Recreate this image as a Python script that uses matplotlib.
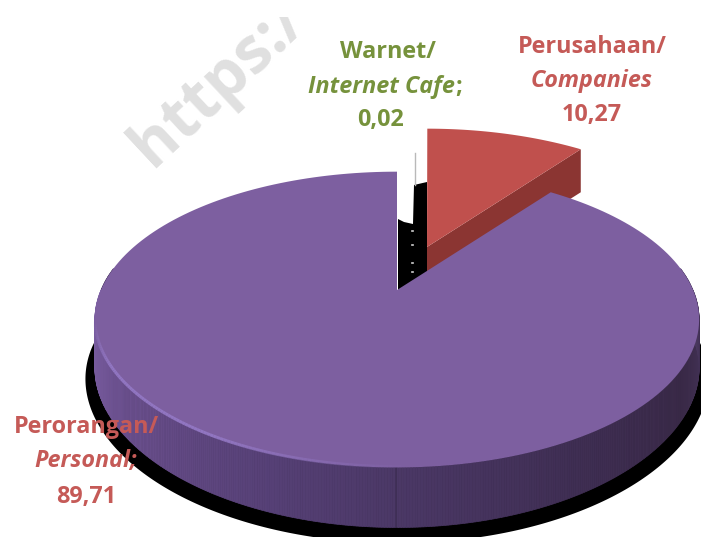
import numpy as np
import matplotlib
matplotlib.use('Agg')
import matplotlib.pyplot as plt
from matplotlib.patches import Polygon
from matplotlib.transforms import Bbox

plt.rcParams['font.family'] = ['Open Sans', 'DejaVu Sans']

labels_id = ['Warnet/', 'Perusahaan/', 'Perorangan/']
labels_en = ['Internet Cafe', 'Companies', 'Personal']
values = [0.02, 10.27, 89.71]
value_text = ['0,02', '10,27', '89,71']

PURPLE = '#7d5fa0'
RED = '#c0504d'
RED_SIDE = '#8b3532'
GREEN = '#76923c'
LABEL_RED = '#c55a57'
FS = 16.8

# pie geometry in pixels, the far side is foreshortened
CX, CY = 397, 290
RX, RY, PERSP = 296, 142, 0.2


def project(theta, r=1.0, off=(0, 0)):
    c, s = r*np.cos(theta), r*np.sin(theta)
    return CX + off[0] + RX*c/(1 + PERSP*s), CY + off[1] - RY*s/(1 + PERSP*s)


def depth_at(theta):
    # rim is tallest at the front
    return 48 + 12*np.sin(theta)**2


def wedge_pts(t0, t1, off=(0, 0), r=1.0):
    t = np.linspace(t0, t1, 200)
    x, y = project(t, r, off)
    return np.r_[[[CX + off[0], CY + off[1]]], np.c_[x, y]]


# slices run clockwise from 12 o'clock
edges = np.pi/2 - 2*np.pi*np.cumsum([0] + values)/sum(values)

fig = plt.figure(figsize=(7.01, 5.37), dpi=100)
ax = fig.add_axes([0, 0, 1, 1])
ax.set_xlim(0, 701)
ax.set_ylim(537, 0)
ax.axis('off')

# watermark, cut off along the top and right
wm = ax.text(152, 168, 'https://', color='#e0e0e0', fontsize=46, fontweight='bold',
             rotation=43, rotation_mode='anchor', ha='left', va='baseline', zorder=1)
wm.set_clip_box(Bbox.from_extents(0, 0, 298, 537 - 17))
wm.set_clip_on(True)

# ground shadow under the front of the pie
t_sh = np.linspace(np.radians(165), np.radians(375), 300)
sx, sy = project(t_sh, 1.03)
sy = sy + depth_at(t_sh) + 9
ax.add_patch(Polygon(np.c_[sx, sy], fc='black', ec='none', zorder=2))

# dark gap between the main slice and the pulled out ones
red_off = (30, -43)
warnet_off = (18, -23)
gap = [(CX + 1, CY + 1), (CX + 1, CY - 71), (CX + 7, CY - 68), (CX + 16, CY - 66), (CX + 17, CY - 105),
       (CX + red_off[0], CY - 108), (CX + red_off[0], CY - 15)]
ax.add_patch(Polygon(gap, fc='black', ec='none', zorder=3))
for yy in [231, 245, 263, 272]:
    ax.plot([411.5, 412.5], [yy, yy], color='#cfcfcf', lw=1.2, zorder=3.1)

# Warnet slice is almost only a line
wx, wy = project((edges[0] + edges[1])/2, 1.0, warnet_off)
ax.plot([CX + 18, CX + 18], [wy + 4, CY - 105], color='#b9b9b9', lw=1.0, zorder=3.2)

# Perusahaan slice, cut face then top
t_cut = edges[2]
ax_, ay_ = CX + red_off[0], CY + red_off[1]
px, py = project(t_cut, 1.0, red_off)
ax.add_patch(Polygon([(ax_, ay_), (px, py), (px, py + 43), (ax_, ay_ + 43)],
                     fc=RED_SIDE, ec='none', zorder=4))
ax.add_patch(Polygon(wedge_pts(edges[1], edges[2], red_off), fc=RED, ec='none', zorder=4.5))

# rim of the main slice, shaded by angle
rim_angles = np.radians([180, 200, 225, 250, 270, 300, 330, 350, 360])
rim_rgb = np.array([[0x80, 0x64, 0xa8], [0x74, 0x58, 0x9a], [0x66, 0x4c, 0x88], [0x56, 0x40, 0x76],
                    [0x4b, 0x38, 0x66], [0x3f, 0x2e, 0x53], [0x3a, 0x2a, 0x48], [0x42, 0x31, 0x55],
                    [0x4c, 0x3a, 0x62]])/255
t_rim = np.linspace(np.pi*0.95, np.pi*2.05, 460)
for a, b in zip(t_rim[:-1], t_rim[1:]):
    xa, ya = project(a)
    xb, yb = project(b)
    mid = ((a + b)/2 - np.radians(180)) % (2*np.pi) + np.radians(180)
    col = [np.interp(min(mid, 2*np.pi), rim_angles, rim_rgb[:, i]) for i in range(3)]
    ax.add_patch(Polygon([(xa, ya), (xb, yb), (xb, yb + depth_at(b)), (xa, ya + depth_at(a))],
                         fc=col, ec=col, lw=0.5, zorder=5))

# Perorangan slice top
ax.add_patch(Polygon(wedge_pts(edges[2], edges[3], (0, 0)), fc=PURPLE, ec='none', zorder=6))

# light bevel along the front left of the rim
t_hi = np.radians(np.linspace(192, 272, 120))
for i, (a, b) in enumerate(zip(t_hi[:-1], t_hi[1:])):
    xa, ya = project(a)
    xb, yb = project(b)
    fade = min(i/25, 1.0, (119 - i)/50)
    ax.plot([xa, xb], [ya - 1, yb - 1], color='#9479c6', lw=2.2, solid_capstyle='butt',
            alpha=0.9*fade, zorder=6.5)

# labels
tkw = dict(ha='center', va='center', fontsize=FS, zorder=10)
ax.text(388, 52, labels_id[0], color=GREEN, fontweight='bold', **tkw)
ax.text(455, 87, labels_en[0], color=GREEN, fontweight='bold', fontstyle='italic',
        ha='right', va='center', fontsize=FS, zorder=10)
ax.text(455, 87, ';', color=GREEN, fontweight='bold', ha='left', va='center', fontsize=FS, zorder=10)
ax.text(381, 120, value_text[0], color=GREEN, fontweight='bold', **tkw)

ax.text(592, 47, labels_id[1], color=LABEL_RED, fontweight='bold', **tkw)
ax.text(592, 81, labels_en[1], color=LABEL_RED, fontweight='bold', fontstyle='italic', **tkw)
ax.text(592, 115, value_text[1], color=LABEL_RED, fontweight='bold', **tkw)

ax.text(86, 427, labels_id[2], color=LABEL_RED, fontweight='bold', **tkw)
ax.text(86, 461, labels_en[2] + ';', color=LABEL_RED, fontweight='bold', fontstyle='italic', **tkw)
ax.text(86, 497, value_text[2], color=LABEL_RED, fontweight='bold', **tkw)

fig.savefig('out.png', dpi=100, facecolor='white')
